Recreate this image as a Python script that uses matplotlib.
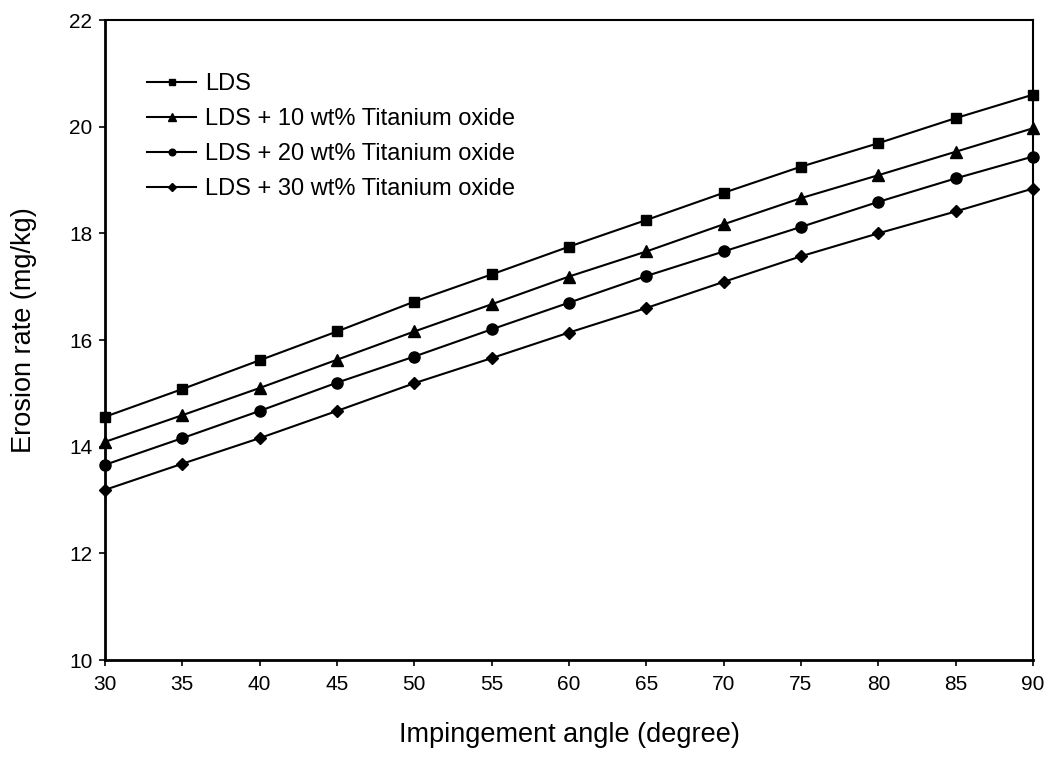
import matplotlib
matplotlib.use("Agg")
import matplotlib.pyplot as plt

plt.rcParams['font.family'] = ['Liberation Sans', 'DejaVu Sans']

angles = [30, 35, 40, 45, 50, 55, 60, 65, 70, 75, 80, 85, 90]
lds = [14.56, 15.08, 15.62, 16.16, 16.72, 17.23, 17.75, 18.25, 18.76, 19.25, 19.69, 20.16, 20.60]
lds_10 = [14.09, 14.59, 15.10, 15.63, 16.16, 16.67, 17.19, 17.66, 18.17, 18.66, 19.09, 19.53, 19.97]
lds_20 = [13.66, 14.16, 14.67, 15.20, 15.69, 16.20, 16.70, 17.20, 17.66, 18.12, 18.59, 19.03, 19.44]
lds_30 = [13.19, 13.68, 14.16, 14.67, 15.19, 15.66, 16.14, 16.60, 17.09, 17.57, 18.00, 18.41, 18.84]

series_labels = ["LDS",
                 "LDS + 10 wt% Titanium oxide",
                 "LDS + 20 wt% Titanium oxide",
                 "LDS + 30 wt% Titanium oxide"]
markers = ["s", "^", "o", "D"]
sizes = [7.5, 8.5, 8.0, 6.5]

x_ticks = [30, 35, 40, 45, 50, 55, 60, 65, 70, 75, 80, 85, 90]
y_ticks = [10, 12, 14, 16, 18, 20, 22]

fig = plt.figure(figsize=(10.52, 7.69), dpi=100)
ax = fig.add_axes([105 / 1052, 1 - 660 / 769, (1033 - 105) / 1052, (660 - 20) / 769])

for ys, lab, m, ms in zip([lds, lds_10, lds_20, lds_30], series_labels, markers, sizes):
    ax.plot(angles, ys, color="black", linewidth=1.5, marker=m, markersize=ms,
            markerfacecolor="black", markeredgecolor="black", label=lab,
            clip_on=False, zorder=3)

ax.set_xlim(30, 90)
ax.set_ylim(10, 22)
ax.set_xticks(x_ticks)
ax.set_yticks(y_ticks)
ax.tick_params(axis="both", direction="out", length=4, width=1.2, labelsize=15,
               colors="black")
ax.tick_params(axis="x", pad=7)
ax.tick_params(axis="y", pad=5)
for side in ["left", "bottom"]:
    ax.spines[side].set_linewidth(2.0)
for side in ["top", "right"]:
    ax.spines[side].set_linewidth(1.5)

ax.set_xlabel("Impingement angle (degree)", fontsize=19.5, labelpad=20)
ax.set_ylabel("Erosion rate (mg/kg)", fontsize=19.5)
ax.yaxis.set_label_coords(-0.073, 0.515)

leg = ax.legend(loc="upper left", bbox_to_anchor=(0.045, 0.917), frameon=False,
                fontsize=17, handlelength=2.1, handletextpad=0.38,
                labelspacing=0.55, markerscale=0.6, borderpad=0,
                borderaxespad=0)

fig.savefig("out.png", dpi=100)
